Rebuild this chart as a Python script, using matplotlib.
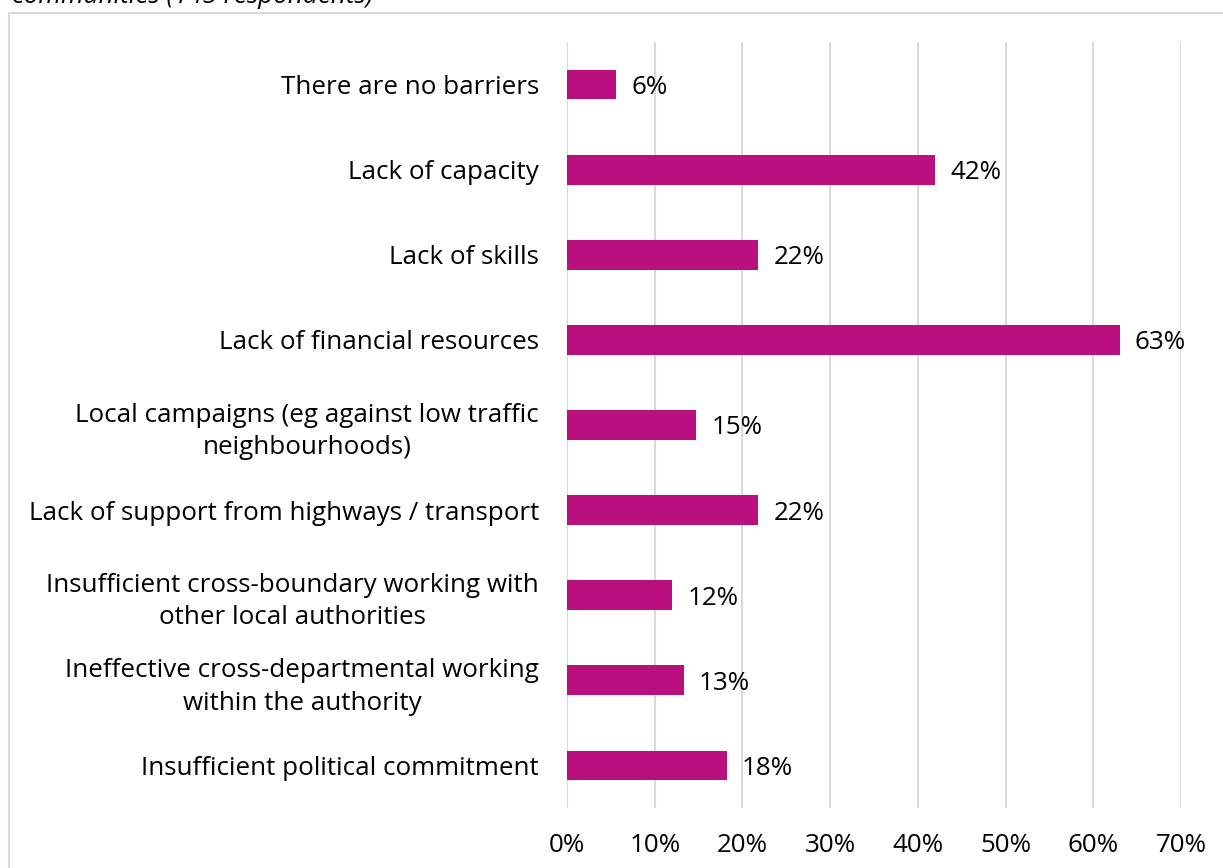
import matplotlib.pyplot as plt
from matplotlib.patches import Rectangle

categories = [
    "There are no barriers",
    "Lack of capacity",
    "Lack of skills",
    "Lack of financial resources",
    "Local campaigns (eg against low traffic\nneighbourhoods)",
    "Lack of support from highways / transport",
    "Insufficient cross-boundary working with\nother local authorities",
    "Ineffective cross-departmental working\nwithin the authority",
    "Insufficient political commitment",
]
values = [0.056, 0.42, 0.218, 0.63, 0.147, 0.218, 0.12, 0.133, 0.182]
value_labels = ["6%", "42%", "22%", "63%", "15%", "22%", "12%", "13%", "18%"]
xticks = [0.0, 0.1, 0.2, 0.3, 0.4, 0.5, 0.6, 0.7]
xtick_labels = ["0%", "10%", "20%", "30%", "40%", "50%", "60%", "70%"]

bar_color = "#BA0F7E"
grid_color = "#D9D9D9"
font = ["Open Sans", "DejaVu Sans"]
fs = 18.7

W, H = 1223, 868
fig = plt.figure(figsize=(W / 100, H / 100), dpi=100)
fig.patch.set_facecolor("white")

# chart frame (runs off the right and bottom edges)
fig.add_artist(Rectangle((9 / W, -0.05), 1.2, 1 - 13 / H + 0.05,
                         transform=fig.transFigure, fill=False,
                         edgecolor=grid_color, linewidth=1.5))

# caption line above the frame
fig.text(12 / W, 1 - 3 / H, "communities (145 respondents)", family=font,
         style="italic", fontsize=fs, va="baseline", ha="left", color="black")

ax = fig.add_axes([567 / W, 1 - 808 / H, (1181 - 567) / W, (808 - 42) / H])
y = list(range(len(categories)))
ax.barh(y, values, height=0.35, color=bar_color, zorder=3)
ax.set_ylim(len(categories) - 0.5, -0.5)
ax.set_xlim(0, 0.7)

for yi, v, lab in zip(y, values, value_labels):
    ax.annotate(lab, (v, yi), xytext=(11, 0), textcoords="offset points",
                va="center_baseline", ha="left", family=font, fontsize=fs,
                color="black")

ax.set_xticks(xticks)
ax.set_xticklabels(xtick_labels, family=font, fontsize=fs)
ax.set_yticks(y)
ax.set_yticklabels(categories, family=font, fontsize=fs, linespacing=1.38)
for t in ax.get_yticklabels():
    t.set_multialignment("center")
ax.tick_params(axis="x", length=0, pad=18)
ax.tick_params(axis="y", length=0, pad=20)
ax.xaxis.grid(True, color=grid_color, linewidth=1.5, zorder=0)
for s in ax.spines.values():
    s.set_visible(False)

fig.savefig("out.png", dpi=100, facecolor="white")
